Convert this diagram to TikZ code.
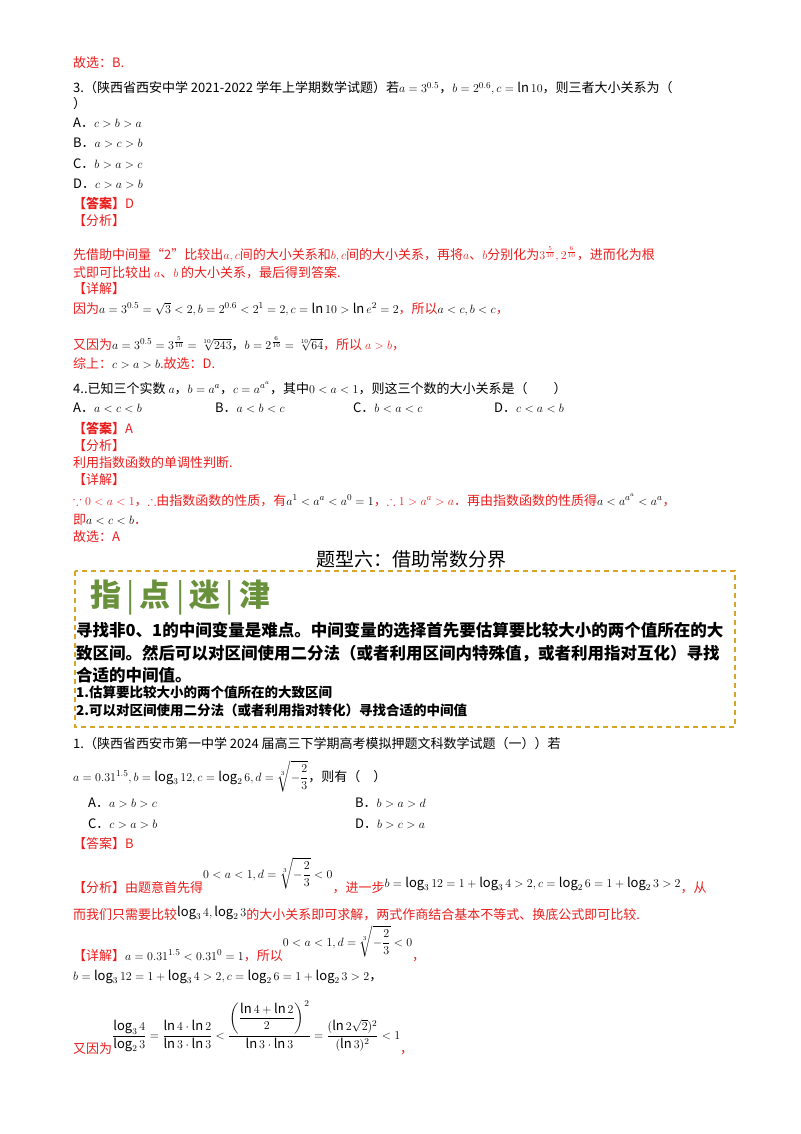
\documentclass[tikz,border=0pt]{standalone}
\usepackage{amsmath,amssymb}
\usepackage{fontspec}
\setmainfont{Noto Sans CJK SC}
\definecolor{myred}{RGB}{235,30,30}
\definecolor{gold}{RGB}{214,165,40}
\definecolor{ggreen}{RGB}{105,145,60}
\newcommand{\fs}{\fontsize{13}{15}\selectfont}
\begin{document}
\begin{tikzpicture}[x=1pt,y=1pt,
  txt/.style={anchor=base west,inner sep=0pt,font=\fs},
  rtxt/.style={txt,text=myred}]
\useasboundingbox (0,0) rectangle (800,-1134);
\fill[white] (0,0) rectangle (800,-1134);
\node[rtxt] (l1) at (73,-68) {故选：B.};
\node[txt] (l2) at (73,-93) {3.（陕西省西安中学 2021-2022 学年上学期数学试题）若$a=3^{0.5}$，$b=2^{0.6},c=\ln 10$，则三者大小关系为（};
\node[txt] (l3) at (73,-109) {）};
\node[txt] (oA) at (73,-128) {A．$c>b>a$};
\node[txt] (oB) at (73,-148) {B．$a>c>b$};
\node[txt] (oC) at (73,-168) {C．$b>a>c$};
\node[txt] (oD) at (73,-189) {D．$c>a>b$};
\node[rtxt] (ans) at (73,-208) {\bfseries【答案】\mdseries D};
\node[rtxt] (fx) at (73,-225) {【分析】};
\node[rtxt] (p1) at (73,-259) {先借助中间量“2”比较出$a,c$间的大小关系和$b,c$间的大小关系，再将$a$、$b$分别化为$3^{\frac{5}{10}},2^{\frac{6}{10}}$，进而化为根};
\node[rtxt] (p2) at (73,-277) {式即可比较出 $a$、$b$ 的大小关系，最后得到答案.};
\node[rtxt] (xj) at (73,-293) {【详解】};
\node[rtxt] (p3) at (73,-313) {因为{\color{black}$a=3^{0.5}=\sqrt3<2,b=2^{0.6}<2^1=2,c=\ln10>\ln e^2=2$}，所以{\color{black}$a<c,b<c$}，};
\node[rtxt] (p4) at (73,-349) {又因为{\color{black}$a=3^{0.5}=3^{\frac{5}{10}}=\sqrt[10]{243}$，$b=2^{\frac{6}{10}}=\sqrt[10]{64}$}，所以 $a>b$，};
\node[rtxt] (p5) at (73,-368) {综上：{\color{black}$c>a>b$}.故选：D.};
\node[txt] (q4) at (73,-393) {4..已知三个实数 $a$，$b=a^a$，$c=a^{a^a}$，其中$0<a<1$，则这三个数的大小关系是（\quad\quad）};
\node[txt] (q4A) at (73,-412) {A．$a<c<b$};
\node[txt] (q4B) at (215,-412) {B．$a<b<c$};
\node[txt] (q4C) at (353,-412) {C．$b<a<c$};
\node[txt] (q4D) at (494,-412) {D．$c<a<b$};
\node[rtxt] (ans4) at (73,-433) {\bfseries【答案】\mdseries A};
\node[rtxt] (fx4) at (73,-450) {【分析】};
\node[rtxt] (r1) at (73,-467) {利用指数函数的单调性判断.};
\node[rtxt] (xj4) at (73,-484) {【详解】};
\node[rtxt] (r2) at (73,-505) {$\because 0<a<1$，$\therefore$由指数函数的性质，有{\color{black}$a^1<a^a<a^0=1$}，$\therefore 1>a^a>a$．再由指数函数的性质得{\color{black}$a<a^{a^a}<a^a$}，};
\node[rtxt] (r3) at (73,-524) {即{\color{black}$a<c<b$}．};
\node[rtxt] (r4) at (73,-541) {故选：A};
\node[anchor=center,inner sep=0pt,font=\fontsize{19}{22}\selectfont] (h6) at (411,-559) {题型六：借助常数分界};
\draw[gold,line width=1.2pt,dash pattern=on 5pt off 4pt] (75,-571) rectangle (735,-727);
\node[anchor=west,inner sep=0pt,text=ggreen,font=\fontsize{31}{34}\selectfont\bfseries] (zd) at (90,-598) {指\,{\mdseries|}\,点\,{\mdseries|}\,迷\,{\mdseries|}\,津};
\node[txt,font=\fontsize{16.5}{18}\selectfont\bfseries] (b1) at (76,-636) {寻找非0、1的中间变量是难点。中间变量的选择首先要估算要比较大小的两个值所在的大};
\node[txt,font=\fontsize{16.5}{18}\selectfont\bfseries] (b2) at (76,-659) {致区间。然后可以对区间使用二分法（或者利用区间内特殊值，或者利用指对互化）寻找};
\node[txt,font=\fontsize{16.5}{18}\selectfont\bfseries] (b3) at (76,-681) {合适的中间值。};
\node[txt,font=\fontsize{13.5}{15}\selectfont\bfseries] (b4) at (76,-697) {1.估算要比较大小的两个值所在的大致区间};
\node[txt,font=\fontsize{13.5}{15}\selectfont\bfseries] (b5) at (76,-715) {2.可以对区间使用二分法（或者利用指对转化）寻找合适的中间值};
\node[txt] (s1) at (73,-748) {1.（陕西省西安市第一中学 2024 届高三下学期高考模拟押题文科数学试题（一））若};
\node[txt] (s2) at (73,-781) {$a=0.31^{1.5},b=\log_3 12,c=\log_2 6,d=\sqrt[3]{-\dfrac23}$，则有（\quad）};
\node[txt] (sA) at (88,-807) {A．$a>b>c$};
\node[txt] (sB) at (355,-807) {B．$b>a>d$};
\node[txt] (sC) at (88,-828) {C．$c>a>b$};
\node[txt] (sD) at (355,-828) {D．$b>c>a$};
\node[rtxt] (ans5) at (73,-848) {【答案】B};
\node[rtxt] (t1) at (73,-892) {【分析】由题意首先得\raisebox{14pt}{\color{black}$0<a<1,d=\sqrt[3]{-\dfrac23}<0$}，进一步\raisebox{5pt}{\color{black}$b=\log_3 12=1+\log_3 4>2,c=\log_2 6=1+\log_2 3>2$}，从};
\node[rtxt] (t2) at (73,-919) {而我们只需要比较\raisebox{3pt}{\color{black}$\log_3 4,\log_2 3$}的大小关系即可求解，两式作商结合基本不等式、换底公式即可比较.};
\node[rtxt] (t3) at (73,-960) {【详解】{\color{black}$a=0.31^{1.5}<0.31^0=1$}，所以\raisebox{14pt}{\color{black}$0<a<1,d=\sqrt[3]{-\dfrac23}<0$}，};
\node[txt] (t4) at (73,-980) {$b=\log_3 12=1+\log_3 4>2,c=\log_2 6=1+\log_2 3>2$，};
\node[rtxt] (t5) at (73,-1053) {又因为\raisebox{14pt}{\color{black}$\dfrac{\log_3 4}{\log_2 3}=\dfrac{\ln4\cdot\ln2}{\ln3\cdot\ln3}<\dfrac{\left(\dfrac{\ln4+\ln2}{2}\right)^2}{\ln3\cdot\ln3}=\dfrac{(\ln2\sqrt2)^2}{(\ln3)^2}<1$}，};
\end{tikzpicture}
\end{document}
